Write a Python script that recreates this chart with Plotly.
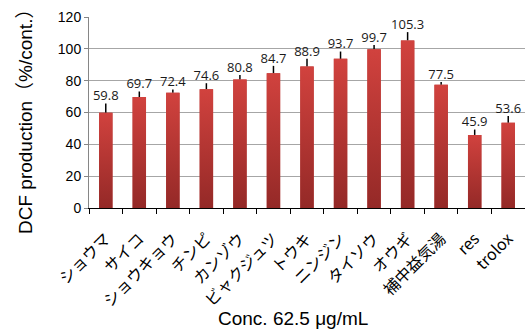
import plotly.graph_objects as go

# Crude drug extracts (and references) tested at 62.5 μg/mL
categories = ["ショウマ", "サイコ", "ショウキョウ", "チンピ", "カンゾウ", "ビャクジュツ",
              "トウキ", "ニンジン", "タイソウ", "オウギ", "補中益気湯", "res", "trolox"]
dcf_values = [59.8, 69.7, 72.4, 74.6, 80.8, 84.7, 88.9, 93.7, 99.7, 105.3, 77.5, 45.9, 53.6]
dcf_errors = [5.9, 3.5, 2.1, 3.8, 2.7, 4.6, 4.8, 4.6, 2.7, 5.2, 1.7, 3.4, 4.2]
y_ticks = [0, 20, 40, 60, 80, 100, 120]

W, H = 525, 332
L, R, T, B = 89, 0, 17, 124
PLOT_W, PLOT_H = W - L - R, H - T - B
BAR_W = 0.4
TOP_RED, BOTTOM_RED = "#d1423e", "#942927"


def paper_x(px):
    return (px - L) / PLOT_W


def paper_y(py):
    return (H - B - py) / PLOT_H


xs = list(range(len(categories)))
fig = go.Figure()

# Bars with upward-only standard-error whiskers
fig.add_trace(go.Bar(
    x=xs, y=dcf_values, width=BAR_W,
    marker=dict(color="#b83633", line=dict(width=0)),
    error_y=dict(type="data", array=dcf_errors, arrayminus=[0] * len(xs),
                 symmetric=False, width=0, thickness=1.5, color="#000000"),
    showlegend=False, hoverinfo="skip",
))

# Vertical red gradient fill over each bar
for x, v in zip(xs, dcf_values):
    fig.add_trace(go.Scatter(
        x=[x - BAR_W / 2, x + BAR_W / 2, x + BAR_W / 2, x - BAR_W / 2, x - BAR_W / 2],
        y=[0, 0, v, v, 0],
        mode="lines", line=dict(width=0), fill="toself",
        fillgradient=dict(type="vertical",
                          colorscale=[[0, BOTTOM_RED], [1, TOP_RED]]),
        showlegend=False, hoverinfo="skip",
    ))

# Value labels above the whiskers
fig.add_trace(go.Scatter(
    x=xs, y=[v + e for v, e in zip(dcf_values, dcf_errors)],
    mode="text", text=[f"{v:.1f}" for v in dcf_values],
    textposition="top center",
    textfont=dict(family="Open Sans, Liberation Sans, sans-serif", size=13, color="#1a1a1a"),
    showlegend=False, hoverinfo="skip", cliponaxis=False,
))

base_font = "Liberation Sans, Arial, Noto Sans CJK JP, sans-serif"

fig.update_layout(
    width=W, height=H,
    margin=dict(l=L, r=R, t=T, b=B),
    paper_bgcolor="white", plot_bgcolor="white",
    font=dict(family=base_font, color="#000000"),
    xaxis=dict(
        range=[-0.5, len(categories) - 0.5],
        tickvals=xs, ticktext=categories, tickangle=-45,
        ticks="", ticklabelstandoff=14,
        tickfont=dict(family="Noto Sans CJK JP, sans-serif", size=16, color="#000000"),
        minor=dict(ticks="outside", tick0=-0.5, dtick=1, ticklen=5,
                   tickcolor="#000000", tickwidth=1, showgrid=False),
        showline=True, linecolor="#000000", linewidth=1,
        showgrid=False, zeroline=False, fixedrange=True,
    ),
    yaxis=dict(
        range=[0, 120], tickvals=y_ticks,
        ticks="outside", ticklen=4, tickcolor="#868686",
        tickfont=dict(family=base_font, size=14, color="#000000"),
        showline=True, linecolor="#868686", linewidth=1,
        showgrid=True, gridcolor="#a6a6a6", gridwidth=1,
        zeroline=False, fixedrange=True,
    ),
    annotations=[
        dict(text="DCF production（%/cont.）", textangle=-90,
             xref="paper", yref="paper", x=paper_x(25), y=paper_y(117),
             xanchor="center", yanchor="middle", showarrow=False,
             font=dict(family=base_font, size=19, color="#000000")),
        dict(text="Conc. 62.5 μg/mL",
             xref="paper", yref="paper", x=paper_x(293), y=paper_y(318),
             xanchor="center", yanchor="middle", showarrow=False,
             font=dict(family=base_font, size=19, color="#000000")),
    ],
)

fig.write_html("out.html")
